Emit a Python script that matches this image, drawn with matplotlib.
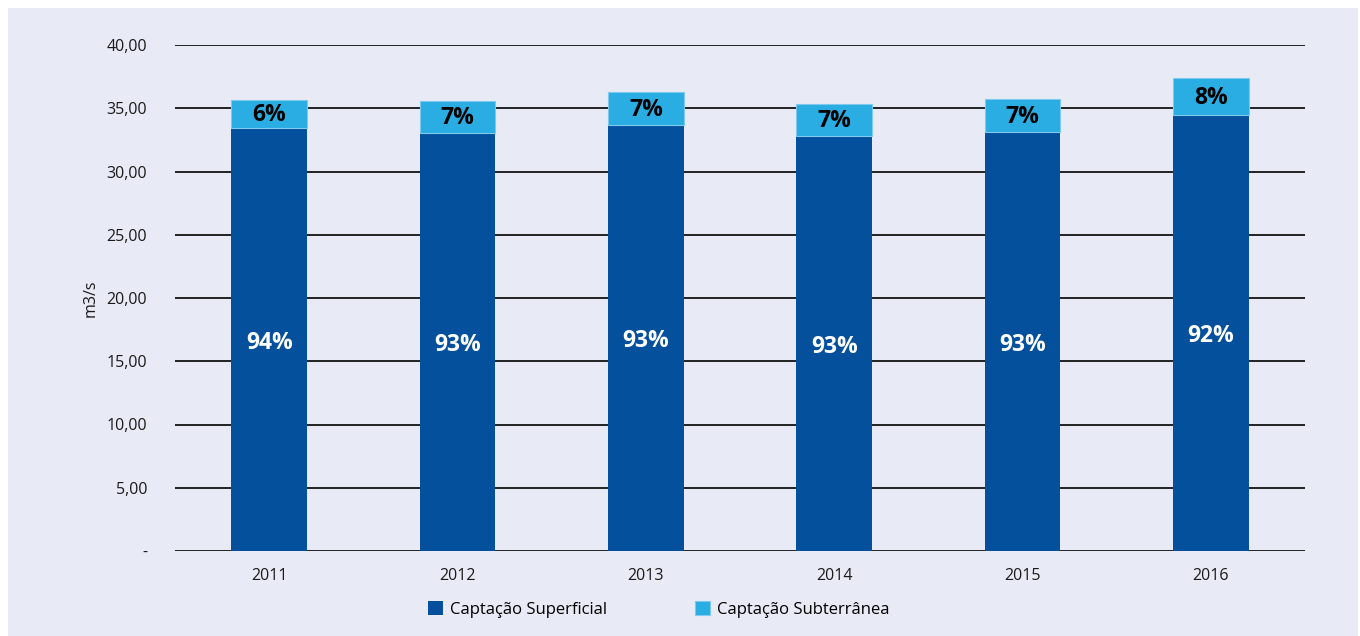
import matplotlib

matplotlib.use("Agg")
import matplotlib.pyplot as plt
from matplotlib.patches import Rectangle
import numpy as np

plt.rcParams["font.family"] = ["Open Sans", "DejaVu Sans"]

# Vazões de captação (m3/s) por ano
anos = ["2011", "2012", "2013", "2014", "2015", "2016"]
superficial = [33.44, 33.04, 33.68, 32.81, 33.10, 34.47]
subterranea = [2.21, 2.53, 2.60, 2.53, 2.60, 2.92]

y_ticks = [0, 5, 10, 15, 20, 25, 30, 35, 40]
y_tick_labels = ["-", "5,00", "10,00", "15,00", "20,00", "25,00", "30,00", "35,00", "40,00"]

COR_SUP = "#05509C"
COR_SUB = "#29ADE3"
FUNDO = "#E8EAF5"

fig = plt.figure(figsize=(13.6, 6.36), dpi=100)
fig.patch.set_facecolor("white")
fundo = Rectangle((8 / 1360, 0), 1 - 10 / 1360, 1 - 8 / 636,
                  transform=fig.transFigure, facecolor=FUNDO, edgecolor="none", zorder=-10)
fig.add_artist(fundo)

ax = fig.add_axes([175 / 1360, 1 - 551 / 636, 1130 / 1360, 506 / 636])
ax.set_facecolor(FUNDO)

x = np.arange(len(anos))
sup = np.array(superficial)
sub = np.array(subterranea)
total = sup + sub
largura = 0.40

ax.bar(x, sup, largura, color=COR_SUP, zorder=3, label="Captação Superficial")
ax.bar(x, sub, largura, bottom=sup, color=COR_SUB, edgecolor="#7FC8EE",
       linewidth=0.8, zorder=3, label="Captação Subterrânea")

# Percentuais de cada parcela dentro da barra
for i in range(len(anos)):
    p_sub = round(sub[i] / total[i] * 100)
    p_sup = 100 - p_sub
    ax.text(x[i], sup[i] / 2 - 0.25, f"{p_sup}%", ha="center", va="center",
            color="white", fontsize=16.5, fontweight="bold", zorder=4)
    ax.text(x[i], sup[i] + sub[i] / 2 - 0.1, f"{p_sub}%", ha="center", va="center",
            color="black", fontsize=16.5, fontweight="bold", zorder=4)

ax.set_xlim(-0.5, len(anos) - 0.5)
ax.set_ylim(0, 40)
ax.set_yticks(y_ticks)
ax.set_yticklabels(y_tick_labels)
ax.set_xticks(x)
ax.set_xticklabels(anos)
ax.tick_params(axis="y", length=0, pad=20, labelsize=11.5, colors="#1a1a1a")
ax.tick_params(axis="x", length=0, pad=12, labelsize=11.5, colors="#1a1a1a")

ax.yaxis.grid(True, color="black", linewidth=1.2, zorder=1)
ax.set_axisbelow(True)
for s in ax.spines.values():
    s.set_visible(False)

ax.set_ylabel("m3/s", fontsize=11.5, color="#1a1a1a", labelpad=6)

ax.legend(loc="upper center", bbox_to_anchor=(0.428, -0.07), ncol=2, frameon=False,
          fontsize=12, handlelength=0.9, handleheight=0.9, handletextpad=0.4,
          columnspacing=5.3)

plt.savefig("out.png", dpi=100, facecolor="white")
plt.close()
